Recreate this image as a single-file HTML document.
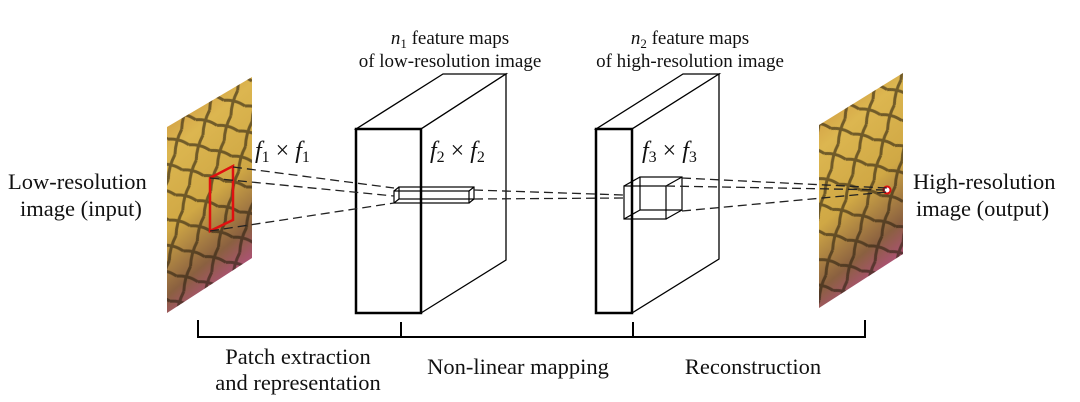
<!DOCTYPE html>
<html><head><meta charset="utf-8"><style>
html,body{margin:0;padding:0;background:#fff;width:1080px;height:402px;overflow:hidden}
svg text{font-family:"Liberation Serif",serif;fill:#111}
</style></head><body>
<svg width="1080" height="402" viewBox="0 0 1080 402" xmlns="http://www.w3.org/2000/svg">
<defs>
<linearGradient id="bf" x1="0" y1="0" x2="0.3" y2="1">
<stop offset="0" stop-color="#c98a3a"/><stop offset="0.3" stop-color="#dcb650"/>
<stop offset="0.6" stop-color="#d0a845"/><stop offset="0.85" stop-color="#8a6040"/><stop offset="1" stop-color="#b0507a"/>
</linearGradient>
<pattern id="veins" width="22" height="26" patternUnits="userSpaceOnUse" patternTransform="rotate(15)">
<path d="M0 13Q11 9 22 13M11 0Q8 13 11 26" stroke="#2a2010" stroke-width="3" fill="none"/>
</pattern>
</defs>
<polygon points="167,127 252,77 252,258 167,313" fill="url(#bf)"/>
<polygon points="167,127 252,77 252,258 167,313" fill="url(#veins)" opacity="0.6"/>
<polygon points="210,178 233,166 233,220 210,231" fill="none" stroke="#e01010" stroke-width="2.5"/>
<polygon points="819,125 903,73 903,254 819,308" fill="url(#bf)"/>
<polygon points="819,125 903,73 903,254 819,308" fill="url(#veins)" opacity="0.6"/>
<circle cx="887" cy="190" r="3.5" fill="#fff" stroke="#e01010" stroke-width="2"/>
<g fill="#fff" stroke="#000">
<polygon points="356,129 443,74 506,74 421,129" stroke-width="1.3"/>
<polygon points="421,129 506,74 506,260 421,313" stroke-width="1.3"/>
<rect x="356" y="129" width="65" height="184" stroke-width="2.5"/>
</g>
<g fill="#fff" stroke="#000">
<polygon points="596,129 683,74 719,74 632,129" stroke-width="1.3"/>
<polygon points="632,129 719,74 719,259 632,313" stroke-width="1.3"/>
<rect x="596" y="129" width="36" height="184" stroke-width="2.5"/>
</g>
<g fill="none" stroke="#000" stroke-width="1.2">
<rect x="394" y="191" width="75" height="12"/>
<rect x="399" y="187" width="75" height="12"/>
<path d="M394 191L399 187M469 191L474 187M469 203L474 199M394 203L399 199"/>
</g>
<g fill="none" stroke="#000" stroke-width="1.2">
<rect x="624" y="186" width="42" height="33"/>
<rect x="640" y="177" width="42" height="33"/>
<path d="M624 186L640 177M666 186L682 177M666 219L682 210M624 219L640 210"/>
</g>
<g stroke="#222" stroke-width="1.3" stroke-dasharray="9,5" fill="none">
<line x1="233" y1="167" x2="394" y2="188"/>
<line x1="210" y1="178" x2="394" y2="196"/>
<line x1="210" y1="231" x2="394" y2="203"/>
<line x1="474" y1="190" x2="624" y2="195"/>
<line x1="474" y1="199" x2="624" y2="198"/>
<line x1="682" y1="178" x2="887" y2="188"/>
<line x1="666" y1="186" x2="887" y2="190"/>
<line x1="682" y1="211" x2="887" y2="192"/>
</g>
<path d="M198 320V337H865V320M401 337V322M633 337V322" fill="none" stroke="#000" stroke-width="2"/>
<g font-size="22.5">
<text x="8" y="189">Low-resolution</text>
<text x="20" y="216">image (input)</text>
<text x="913" y="189">High-resolution</text>
<text x="916" y="216">image (output)</text>
<text x="298" y="364" text-anchor="middle">Patch extraction</text>
<text x="298" y="390" text-anchor="middle">and representation</text>
<text x="518" y="374" text-anchor="middle">Non-linear mapping</text>
<text x="753" y="374" text-anchor="middle">Reconstruction</text>
</g>
<g font-size="19">
<text x="450" y="44" text-anchor="middle"><tspan font-style="italic">n</tspan><tspan font-size="13" dy="4">1</tspan><tspan dy="-4"> feature maps</tspan></text>
<text x="450" y="67" text-anchor="middle">of low-resolution image</text>
<text x="690" y="44" text-anchor="middle"><tspan font-style="italic">n</tspan><tspan font-size="13" dy="4">2</tspan><tspan dy="-4"> feature maps</tspan></text>
<text x="690" y="67" text-anchor="middle">of high-resolution image</text>
</g>
<g font-size="24">
<text x="255" y="158"><tspan font-style="italic">f</tspan><tspan font-size="16" dy="4">1</tspan><tspan dy="-4"> × </tspan><tspan font-style="italic">f</tspan><tspan font-size="16" dy="4">1</tspan></text>
<text x="430" y="158"><tspan font-style="italic">f</tspan><tspan font-size="16" dy="4">2</tspan><tspan dy="-4"> × </tspan><tspan font-style="italic">f</tspan><tspan font-size="16" dy="4">2</tspan></text>
<text x="642" y="158"><tspan font-style="italic">f</tspan><tspan font-size="16" dy="4">3</tspan><tspan dy="-4"> × </tspan><tspan font-style="italic">f</tspan><tspan font-size="16" dy="4">3</tspan></text>
</g>
</svg>
</body></html>
